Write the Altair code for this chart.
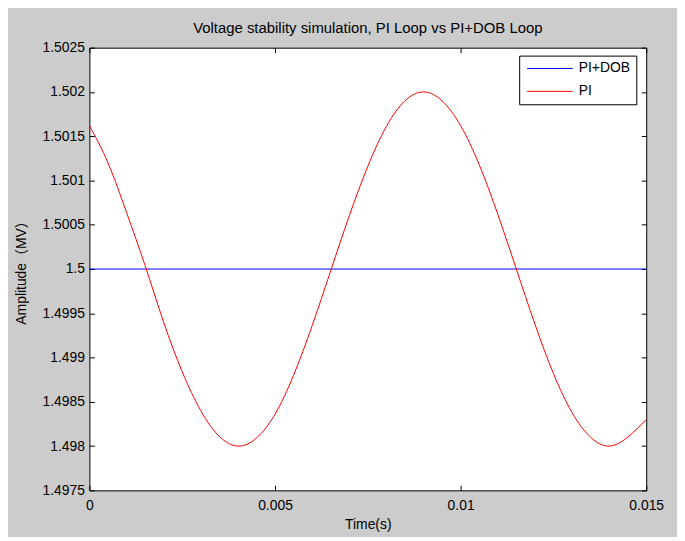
import altair as alt
import pandas as pd

# time samples (s)
t = [0.0, 0.0005, 0.001, 0.0015, 0.002, 0.0025, 0.003, 0.0035, 0.004, 0.0045,
     0.005, 0.0055, 0.006, 0.0065, 0.007, 0.0075, 0.008, 0.0085, 0.009, 0.0095,
     0.010, 0.0105, 0.011, 0.0115, 0.012, 0.0125, 0.013, 0.0135, 0.014, 0.0145, 0.015]
# PI loop voltage (MV)
pi_vals = [1.50162, 1.50120, 1.50064, 1.50004, 1.49940, 1.49884, 1.49840, 1.49811, 1.49800, 1.49809,
           1.49836, 1.49880, 1.49936, 1.49998, 1.50060, 1.50116, 1.50161, 1.50190, 1.50200, 1.50190,
           1.50162, 1.50118, 1.50062, 1.50000, 1.49938, 1.49882, 1.49838, 1.49810, 1.49800, 1.49810, 1.49830]
# PI+DOB loop voltage
dob_t = [0.0, 0.015]
dob_vals = [1.5, 1.5]

series = ["PI+DOB", "PI"]
colors = ["#0000ff", "#ff0000"]
y_ticks = [1.4975, 1.498, 1.4985, 1.499, 1.4995, 1.5, 1.5005, 1.501, 1.5015, 1.502, 1.5025]
x_ticks = [0, 0.005, 0.01, 0.015]

df = pd.concat([
    pd.DataFrame({"t": dob_t, "v": dob_vals, "s": "PI+DOB", "o": 0}),
    pd.DataFrame({"t": t, "v": pi_vals, "s": "PI", "o": 1}),
], ignore_index=True)

W, H = 561, 446
FONT = "Liberation Sans, Noto Sans CJK SC"

x_enc = alt.X("t:Q", scale=alt.Scale(domain=[0, 0.015], nice=False, zero=False),
              axis=alt.Axis(values=x_ticks, format=".3~f", title="Time(s)",
                            grid=True, gridDash=[5, H - 10], gridColor="#000000",
                            gridOpacity=1, gridWidth=1, ticks=False, labelPadding=8,
                            labelFlush=False, titlePadding=5, domain=False))
y_enc = alt.Y("v:Q", scale=alt.Scale(domain=[1.4975, 1.5025], nice=False, zero=False),
              axis=alt.Axis(values=y_ticks, format=".4~f", title="Amplitude（MV）",
                            grid=True, gridDash=[5, W - 10], gridColor="#000000",
                            gridOpacity=1, gridWidth=1, ticks=False, labelPadding=5,
                            labelFlush=False, titlePadding=14, domain=False))
color_enc = alt.Color("s:N", scale=alt.Scale(domain=series, range=colors),
                      legend=alt.Legend(title=None, orient="none", legendX=433, legendY=8,
                                        fillColor="white", strokeColor="black",
                                        padding=6, rowPadding=9,
                                        symbolType="M-1,0H8.2", symbolSize=100,
                                        symbolStrokeWidth=1, labelOffset=40,
                                        labelFontSize=14, labelFont=FONT,
                                        labelColor="black", cornerRadius=0))

chart = alt.Chart(df).mark_line(strokeWidth=1, interpolate="natural").encode(
    x=x_enc, y=y_enc, color=color_enc, order="o:Q", detail="s:N"
).properties(
    width=W, height=H,
    title=alt.TitleParams("Voltage stability simulation, PI Loop vs PI+DOB Loop",
                          fontSize=15, font=FONT, fontWeight="normal", color="black",
                          offset=5),
    background="#cccccc",
    padding={"left": 82, "top": 38, "right": 31, "bottom": 45},
    autosize=alt.AutoSizeParams(type="none"),
).configure_view(
    fill="white", stroke="black", strokeWidth=1
).configure_axis(
    labelFont=FONT, titleFont=FONT, labelFontSize=14, titleFontSize=14,
    labelColor="black", titleColor="black", titleFontWeight="normal"
)

chart.save("out.html", embed_options={"renderer": "svg", "actions": False})
